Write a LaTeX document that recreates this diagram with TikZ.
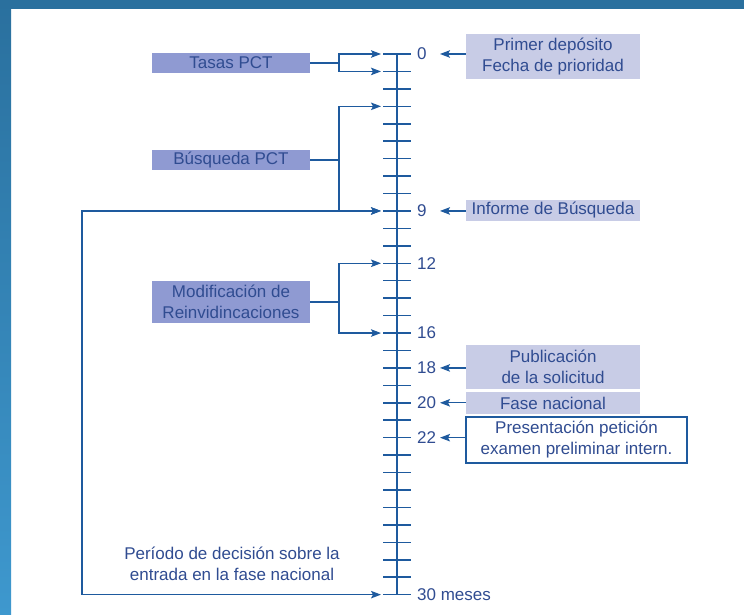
\documentclass[tikz,border=0pt]{standalone}
\usepackage{fontspec}
\setmainfont{Liberation Sans}
\usetikzlibrary{arrows.meta}
\definecolor{lineblue}{RGB}{30,90,158}
\definecolor{textblue}{RGB}{48,76,145}
\definecolor{darkbox}{RGB}{143,154,210}
\definecolor{lightbox}{RGB}{200,204,230}
\definecolor{frametop}{RGB}{42,112,158}
\definecolor{framebot}{RGB}{62,152,206}
\tikzset{
  leftbox/.style={fill=darkbox, text=textblue, minimum width=158pt, inner sep=0pt, align=center},
  rightbox/.style={fill=lightbox, text=textblue, minimum width=174pt, inner sep=0pt, align=center},
  conn/.style={lineblue, line width=1.2pt},
  tip/.style={-{Stealth[length=10pt,width=7.5pt,inset=2pt]}},
  arr/.style={conn, tip},
  monthlbl/.style={text=textblue, anchor=west, inner sep=0pt},
}
\begin{document}
\begin{tikzpicture}[x=1pt,y=-1pt,font=\fontsize{17}{21}\selectfont]
			%%%%% FRAME %%%%%
			\useasboundingbox (0,0) rectangle (744,615);
			\fill[white] (0,0) rectangle (744,615);
			\shade[top color=frametop, bottom color=framebot] (0,0) rectangle (11,615);
			\fill[frametop] (0,0) rectangle (744,9);
			
			%%%%% TIME AXIS %%%%%
			\foreach \i in {0,...,31} {
				\coordinate (t\i) at (383, {54+17.44*\i});
				\coordinate (a\i) at (381, {54+17.44*\i});
				\coordinate (r\i) at (440, {54+17.44*\i});
				\draw[lineblue, line width=1.5pt] (t\i) -- ++(28,0);
			}
			\coordinate (axtop) at (397,54);
			\coordinate (axbot) at (397,{54+17.44*31});
			\draw[lineblue, line width=2.5pt] (axtop) -- (axbot);
			\foreach \i/\m in {0/0, 9/9, 12/12, 16/16, 18/18, 20/20, 22/22, 31/30 meses}
				\node[monthlbl] (m\i) at (417, {54+17.44*\i}) {\m};
			
			%%%%% LEFT SIDE %%%%%
			\node[leftbox, minimum height=20pt] (tasas) at (231,63) {Tasas PCT};
			\node[leftbox, minimum height=20pt] (busqueda) at (231,160) {Búsqueda PCT};
			\node[leftbox, minimum height=42pt] (modif) at (231,302) {Modificación de\\Reinvidincaciones};
			\coordinate (tasasbus) at (339,63);
			\coordinate (busqbus) at (339,160);
			\coordinate (modifbus) at (339,302);
			\draw[arr] (tasas.east) -- (tasasbus) |- (a0);
			\draw[arr] (tasasbus) |- (a1);
			\draw[arr] (busqueda.east) -- (busqbus) |- (a3);
			\draw[arr] (busqbus) |- (a9);
			\draw[arr] (modif.east) -- (modifbus) |- (a12);
			\draw[arr] (modifbus) |- (a16);
			
			\coordinate (pcorner) at (82,{54+17.44*31});
			\draw[conn, {Stealth[length=10pt,width=7.5pt,inset=2pt]}-{Stealth[length=10pt,width=7.5pt,inset=2pt]}] (a9) -| (pcorner) -- (a31);
			\node[text=textblue, align=center] (periodo) at (232,564) {Período de decisión sobre la\\entrada en la fase nacional};
			
			%%%%% RIGHT SIDE %%%%%
			\node[rightbox, minimum height=45pt] (primer) at (553,56.5) {Primer depósito\\Fecha de prioridad};
			\node[rightbox, minimum height=21pt] (informe) at (553,210.5) {Informe de Búsqueda};
			\node[rightbox, minimum height=44pt] (public) at (553,367) {Publicación\\de la solicitud};
			\node[rightbox, minimum height=22pt] (fase) at (553,403) {Fase nacional};
			\node[draw=lineblue, line width=1.2pt, fill=white, text=textblue, minimum width=221pt, minimum height=46pt, inner sep=0pt, align=center] (present) at (576.5,440) {Presentación petición\\examen preliminar intern.};
			\draw[arr] (primer.west |- r0) -- (r0);
			\draw[arr] (informe.west |- r9) -- (r9);
			\draw[arr] (public.west |- r18) -- (r18);
			\draw[arr] (fase.west |- r20) -- (r20);
			\draw[arr] (present.west |- r22) -- (r22);
			
			%%%%% END %%%%%
\end{tikzpicture}
\end{document}
